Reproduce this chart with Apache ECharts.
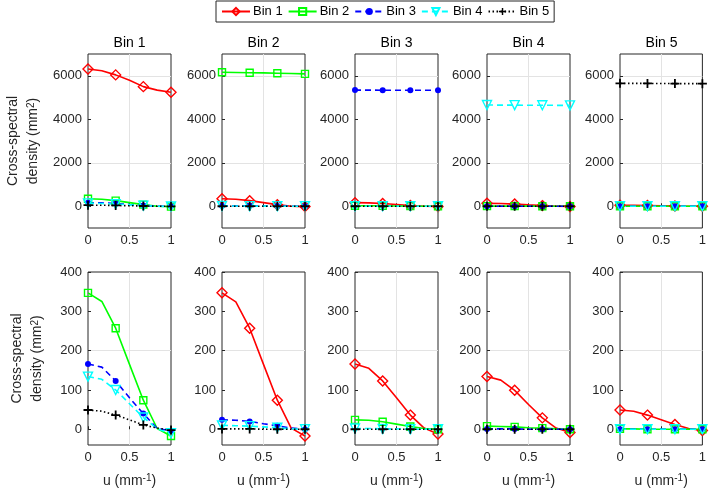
<!DOCTYPE html>
<html><head><meta charset="utf-8">
<script src="https://cdn.jsdelivr.net/npm/echarts@6/dist/echarts.min.js"></script>
<style>html,body{margin:0;padding:0;background:#fff}#c{width:709px;height:490px}</style>
</head><body><div id="c"></div>
<script>
// ---- data ----
const U = [0, 1/6, 1/3, 1/2, 2/3, 5/6, 1];
const binNames = ['Bin 1', 'Bin 2', 'Bin 3', 'Bin 4', 'Bin 5'];
const panelTitles = ['Bin 1', 'Bin 2', 'Bin 3', 'Bin 4', 'Bin 5'];
// each panel: values of series Bin 1..Bin 5 at U
const panel1 = [
  [6310, 6230, 6040, 5790, 5500, 5340, 5240],
  [347, 325, 257, 165, 74, 2, -17],
  [166, 158, 123, 80, 40, 2, -4],
  [134, 127, 100, 65, 30, 1, -10],
  [49, 46, 36, 24, 11, 3, -2]
];
const panel2 = [
  [347, 324, 257, 165, 74, 3, -17],
  [6160, 6150, 6140, 6130, 6115, 6100, 6085],
  [24, 23, 20, 14, 9, 3, 0],
  [10, 9, 8, 6, 4, 1, 0],
  [1, 1, 1, 0, 0, 0, 0]
];
const panel3 = [
  [166, 155, 123, 80, 36, 3, -12],
  [24, 23, 19, 13, 7, 2, 0],
  [5340, 5340, 5335, 5335, 5335, 5330, 5330],
  [2, 2, 1, 1, 0, 0, 0],
  [0, 0, 0, 0, 0, 0, 0]
];
const panel4 = [
  [134, 125, 99, 63, 29, 3, -8],
  [8, 7, 6, 4, 3, 1, 0],
  [1, 1, 1, 0, 0, 0, 0],
  [4655, 4650, 4650, 4645, 4645, 4640, 4640],
  [0, 0, 0, 0, 0, 0, 0]
];
const panel5 = [
  [49, 46, 36, 24, 12, 2, -3],
  [1, 1, 0, 0, 0, 0, 0],
  [0, 0, 0, 0, 0, 0, 0],
  [0, 0, 0, 0, 0, 0, 0],
  [5650, 5650, 5645, 5645, 5640, 5640, 5635]
];
const panels = [panel1, panel2, panel3, panel4, panel5];
const xTicks = [0, 0.5, 1];
const yTicksTop = [0, 2000, 4000, 6000];
const yTicksBottom = [0, 100, 200, 300, 400];

// ---- styles / layout ----
const colors = ['#ff0000', '#00ff00', '#0000ff', '#00ffff', '#000000'];
const lineTypes = ['solid', 'solid', [6, 4], [6, 4], [1.5, 2.5]];
const symbols = ['diamond', 'rect', 'circle', 'triangle', 'path://M3.2,0H4.8V3.2H8V4.8H4.8V8H3.2V4.8H0V3.2H3.2Z'];
const symbolSizes = [10, 7, 6, 9, 9];
const symbolRot = [0, 0, 0, 180, 0];
const hollow = [true, true, false, true, false];
const lefts = [88, 222, 355, 487, 620];
const W = 83;
const rows = [{top: 54, height: 174, min: -1000, max: 7000, step: 1000, ticks: yTicksTop, period: 2},
              {top: 272, height: 173, min: -40, max: 400, step: 20, ticks: yTicksBottom, period: 5}];
const txt = '#262626';
const gridC = '#e3e3e3';
const font = 'Liberation Sans, Arial, Helvetica, sans-serif';

const grids = [], xAxes = [], yAxes = [], series = [], titles = [];
rows.forEach((r, ri) => {
  panels.forEach((p, pi) => {
    const gi = grids.length;
    grids.push({left: lefts[pi], top: r.top, width: W, height: r.height, show: true,
      borderColor: txt, borderWidth: 1, backgroundColor: '#fff', containLabel: false});
    xAxes.push({type: 'value', gridIndex: gi, min: 0, max: 1, interval: 0.5,
      axisLine: {show: false}, axisTick: {show: true, inside: true, length: 3, lineStyle: {color: txt}},
      axisLabel: {color: txt, fontSize: 13, fontFamily: font, margin: 6,
        formatter: v => (xTicks.indexOf(v) >= 0 ? String(v) : '')},
      splitLine: {show: true, lineStyle: {color: ['rgba(0,0,0,0)', gridC, 'rgba(0,0,0,0)'], width: 1}},
      name: ri === 1 ? 'u (mm{sup|-1})' : '', nameLocation: 'middle', nameGap: 28,
      nameTextStyle: {color: txt, fontSize: 14, fontFamily: font,
        rich: {sup: {fontSize: 10, fontFamily: font, color: txt, verticalAlign: 'bottom', padding: [0, 0, 7, 0]}}}
    });
    const colorsArr = [];
    for (let k = 0; k < r.period; k++) colorsArr.push('rgba(0,0,0,0)');
    const zeroIdx = Math.round((0 - r.min) / r.step) % r.period;
    colorsArr[zeroIdx] = gridC;
    yAxes.push({type: 'value', gridIndex: gi, min: r.min, max: r.max, interval: r.step,
      axisLine: {show: false},
      axisTick: {show: true, inside: true, length: 3, customValues: r.ticks, lineStyle: {color: txt}},
      axisLabel: {color: txt, fontSize: 13, fontFamily: font, margin: 6,
        formatter: v => (r.ticks.indexOf(v) >= 0 ? String(v) : '')},
      splitLine: {show: true, lineStyle: {color: colorsArr, width: 1}},
      name: pi === 0 ? 'Cross-spectral\ndensity (mm{sup|2})' : '', nameLocation: 'middle',
      nameGap: ri === 0 ? 45 : 41,
      nameTextStyle: {color: txt, fontSize: 14, fontFamily: font, lineHeight: 20,
        rich: {sup: {fontSize: 10, fontFamily: font, color: txt, verticalAlign: 'bottom', padding: [0, 0, 7, 0]}}}
    });
    p.forEach((vals, si) => {
      const c = colors[si];
      series.push({
        type: 'line', name: binNames[si], xAxisIndex: gi, yAxisIndex: gi,
        data: U.map((u, i) => (i % 2 === 0 ? [u, vals[i]] : {value: [u, vals[i]], symbol: 'none'})),
        symbol: symbols[si],
        symbolSize: symbolSizes[si], symbolRotate: symbolRot[si], showSymbol: true,
        lineStyle: {color: c, width: 1.6, type: lineTypes[si]},
        itemStyle: hollow[si] ? {color: 'rgba(255,255,255,0)', borderColor: c, borderWidth: 1.4}
                              : {color: c, borderWidth: 0},
        clip: true, animation: false, emphasis: {disabled: true}, silent: true
      });
    });
  });
});
panelTitles.forEach((t, pi) => {
  titles.push({text: t, left: lefts[pi] + W / 2, top: 36, textAlign: 'center', padding: 0,
    textStyle: {fontSize: 14, fontWeight: 'normal', color: '#000', fontFamily: font}});
});

const chart = echarts.init(document.getElementById('c'), null, {renderer: 'canvas'});
chart.setOption({
  animation: false,
  title: titles,
  legend: {data: binNames, left: 216, top: 1, orient: 'horizontal', padding: [4, 5],
    itemGap: 5, itemWidth: 28, itemHeight: 9, borderColor: txt, borderWidth: 1, borderRadius: 0,
    backgroundColor: '#fff', selectedMode: false,
    textStyle: {fontSize: 13, color: '#000', fontFamily: font, padding: [0, 0, 0, -2]}},
  grid: grids, xAxis: xAxes, yAxis: yAxes, series: series
});
</script></body></html>
